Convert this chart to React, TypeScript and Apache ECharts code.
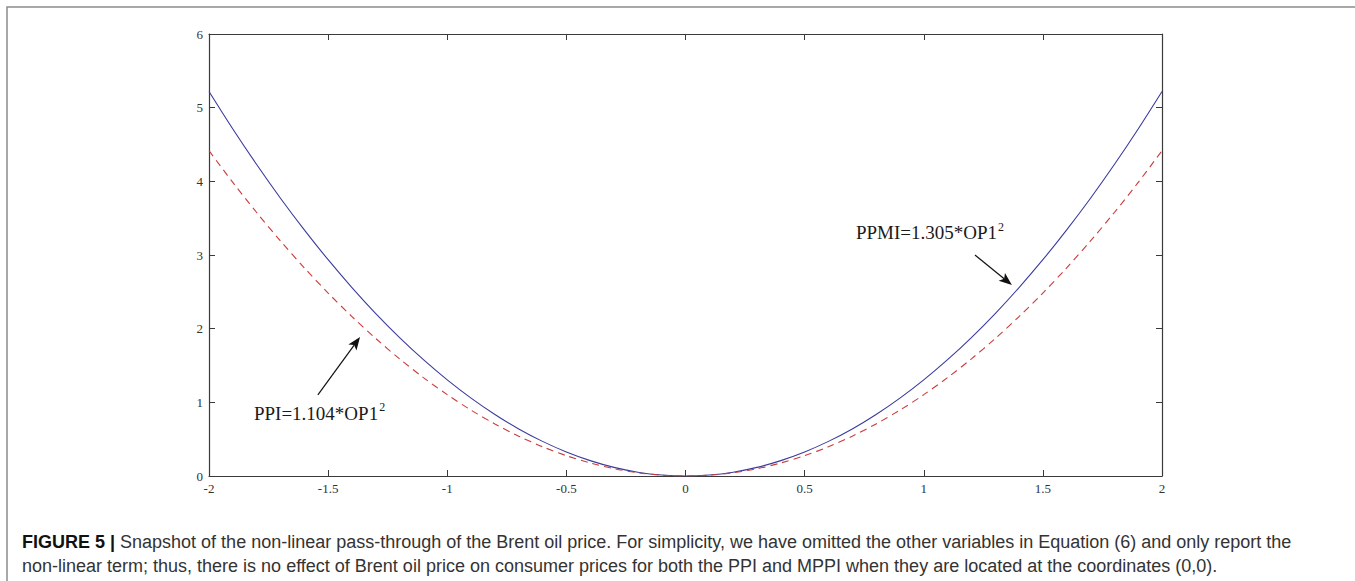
import React, { useEffect, useRef } from "react";
import * as echarts from "echarts";

// x positions of the sampled curve points
const xValues = [
  -2.0, -1.9, -1.8, -1.7, -1.6, -1.5, -1.4, -1.3, -1.2, -1.1, -1.0,
  -0.9, -0.8, -0.7, -0.6, -0.5, -0.4, -0.3, -0.2, -0.1, 0.0,
  0.1, 0.2, 0.3, 0.4, 0.5, 0.6, 0.7, 0.8, 0.9, 1.0,
  1.1, 1.2, 1.3, 1.4, 1.5, 1.6, 1.7, 1.8, 1.9, 2.0,
];
// PPMI curve (solid blue)
const ppmiValues = [
  5.22, 4.711, 4.228, 3.771, 3.341, 2.936, 2.558, 2.205, 1.879, 1.579, 1.305,
  1.057, 0.835, 0.639, 0.47, 0.326, 0.209, 0.117, 0.052, 0.013, 0.0,
  0.013, 0.052, 0.117, 0.209, 0.326, 0.47, 0.639, 0.835, 1.057, 1.305,
  1.579, 1.879, 2.205, 2.558, 2.936, 3.341, 3.771, 4.228, 4.711, 5.22,
];
// PPI curve (dashed red)
const ppiValues = [
  4.416, 3.985, 3.577, 3.191, 2.826, 2.484, 2.164, 1.866, 1.59, 1.336, 1.104,
  0.894, 0.707, 0.541, 0.397, 0.276, 0.177, 0.099, 0.044, 0.011, 0.0,
  0.011, 0.044, 0.099, 0.177, 0.276, 0.397, 0.541, 0.707, 0.894, 1.104,
  1.336, 1.59, 1.866, 2.164, 2.484, 2.826, 3.191, 3.577, 3.985, 4.416,
];

// annotations (data coordinates)
const ppmiLabel = { text: "PPMI=1.305*OP1", at: [1.026, 3.3], tail: [1.215, 3.0], tip: [1.37, 2.593] };
const ppiLabel = { text: "PPI=1.104*OP1", at: [-1.536, 0.855], tail: [-1.543, 1.1], tip: [-1.366, 1.887] };

const captionBold = "FIGURE 5 |";
const captionLine1 =
  " Snapshot of the non-linear pass-through of the Brent oil price. For simplicity, we have omitted the other variables in Equation (6) and only report the";
const captionLine2 =
  "non-linear term; thus, there is no effect of Brent oil price on consumer prices for both the PPI and MPPI when they are located at the coordinates (0,0).";

const AXIS_COLOR = "#3a3a3a";

export default function App() {
  const ref = useRef<HTMLDivElement>(null);

  useEffect(() => {
    const chart = echarts.init(ref.current!, null, { renderer: "svg", width: 1355, height: 581 });
    const tick = { inside: true, length: 6, lineStyle: { color: AXIS_COLOR, width: 1 } };
    const line = { lineStyle: { color: AXIS_COLOR, width: 1.2 } };
    const labelStyle = { color: "#333", fontFamily: "Liberation Serif", fontSize: 13 };

    chart.setOption({
      animation: false,
      backgroundColor: "#ffffff",
      grid: { left: 209, right: 193, top: 34, bottom: 105, containLabel: false },
      xAxis: [
        {
          type: "value", min: -2, max: 2, interval: 0.5, position: "bottom",
          axisLine: { onZero: false, ...line }, axisTick: tick, splitLine: { show: false },
          axisLabel: { ...labelStyle, margin: 6, formatter: (v: number) => String(v) },
        },
        {
          type: "value", min: -2, max: 2, interval: 0.5, position: "top",
          axisLine: { onZero: false, ...line }, axisTick: tick, splitLine: { show: false },
          axisLabel: { show: false },
        },
      ],
      yAxis: [
        {
          type: "value", min: 0, max: 6, interval: 1, position: "left",
          axisLine: { show: true, onZero: false, ...line }, axisTick: { show: true, ...tick }, splitLine: { show: false },
          axisLabel: { ...labelStyle, margin: 6 },
        },
        {
          type: "value", min: 0, max: 6, interval: 1, position: "right",
          axisLine: { show: true, onZero: false, ...line }, axisTick: { show: true, ...tick }, splitLine: { show: false },
          axisLabel: { show: false },
        },
      ],
      series: [
        {
          name: "PPMI", type: "line", xAxisIndex: 0, yAxisIndex: 0,
          data: xValues.map((x, i) => [x, ppmiValues[i]]),
          showSymbol: false, smooth: 0.3,
          lineStyle: { color: "#3b3b9e", width: 1.1 },
        },
        {
          name: "PPI", type: "line", xAxisIndex: 0, yAxisIndex: 0,
          data: xValues.map((x, i) => [x, ppiValues[i]]),
          showSymbol: false, smooth: 0.3,
          lineStyle: { color: "#cc3b3b", width: 1.1, type: [7, 5] },
        },
      ],
    });

    const px = (pt: number[]) => chart.convertToPixel({ xAxisIndex: 0, yAxisIndex: 0 }, pt) as number[];

    const arrow = (tailD: number[], tipD: number[]) => {
      const t = px(tailD);
      const h = px(tipD);
      const dx = h[0] - t[0];
      const dy = h[1] - t[1];
      const len = Math.sqrt(dx * dx + dy * dy);
      const ux = dx / len;
      const uy = dy / len;
      const hl = 13;
      const hw = 5;
      const bx = h[0] - ux * hl;
      const by = h[1] - uy * hl;
      return [
        {
          type: "line", silent: true,
          shape: { x1: t[0], y1: t[1], x2: bx + ux * 3, y2: by + uy * 3 },
          style: { stroke: "#111", lineWidth: 1.2 },
        },
        {
          type: "polygon", silent: true,
          shape: {
            points: [
              [h[0], h[1]],
              [bx - uy * hw, by + ux * hw],
              [bx + ux * 3, by + uy * 3],
              [bx + uy * hw, by - ux * hw],
            ],
          },
          style: { fill: "#111" },
        },
      ];
    };

    const label = (l: { text: string; at: number[] }) => {
      const p = px(l.at);
      return {
        type: "text", silent: true, x: p[0], y: p[1],
        style: {
          text: `{m|${l.text}}{s|2}`,
          align: "center", verticalAlign: "middle",
          rich: {
            m: { fontFamily: "Liberation Serif", fontSize: 19, fill: "#1a1a1a" },
            s: { fontFamily: "Liberation Serif", fontSize: 12, fill: "#1a1a1a", padding: [0, 0, 12, 1] },
          },
        },
      };
    };

    chart.setOption({
      graphic: [
        {
          type: "rect", silent: true,
          shape: { x: 7, y: 7, width: 1400, height: 700 },
          style: { fill: "none", stroke: "#8c8c8c", lineWidth: 1.5 },
        },
        label(ppmiLabel),
        label(ppiLabel),
        ...arrow(ppmiLabel.tail, ppmiLabel.tip),
        ...arrow(ppiLabel.tail, ppiLabel.tip),
        {
          type: "text", silent: true, x: 22, y: 542,
          style: {
            text: `{b|${captionBold}}{r|${captionLine1}}`,
            verticalAlign: "middle",
            rich: {
              b: { fontFamily: "Liberation Sans", fontSize: 18, fontWeight: "bold", fill: "#111" },
              r: { fontFamily: "Liberation Sans", fontSize: 18, fill: "#333" },
            },
          },
        },
        {
          type: "text", silent: true, x: 22, y: 566,
          style: {
            text: captionLine2, verticalAlign: "middle",
            fontFamily: "Liberation Sans", fontSize: 18, fill: "#333",
          },
        },
      ],
    });

    return () => chart.dispose();
  }, []);

  return (
    <div
      ref={ref}
      style={{ position: "absolute", left: 0, top: 0, width: 1355, height: 581, background: "#fff" }}
    />
  );
}
